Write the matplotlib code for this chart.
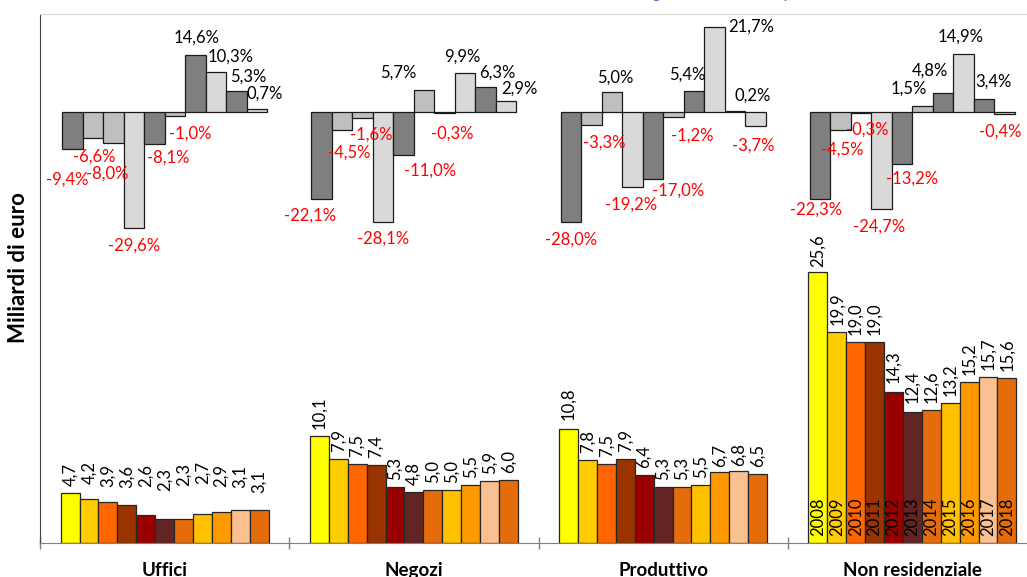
import numpy as np
import matplotlib
matplotlib.use("Agg")
import matplotlib.pyplot as plt

plt.rcParams['font.family'] = ['Lato', 'DejaVu Sans']

# --- data ---
categories = ["Uffici", "Negozi", "Produttivo", "Non residenziale"]
years = ["2008", "2009", "2010", "2011", "2012", "2013",
         "2014", "2015", "2016", "2017", "2018"]

# billions of euro, 2008..2018
uffici     = [4.7, 4.2, 3.9, 3.6, 2.6, 2.3, 2.3, 2.7, 2.9, 3.1, 3.1]
negozi     = [10.1, 7.9, 7.5, 7.4, 5.3, 4.8, 5.0, 5.0, 5.5, 5.9, 6.0]
produttivo = [10.8, 7.8, 7.5, 7.9, 6.4, 5.3, 5.3, 5.5, 6.7, 6.8, 6.5]
non_resid  = [25.6, 19.9, 19.0, 19.0, 14.3, 12.4, 12.6, 13.2, 15.2, 15.7, 15.6]

# yearly change (%), 2009..2018
var_uffici     = [-9.4, -6.6, -8.0, -29.6, -8.1, -1.0, 14.6, 10.3, 5.3, 0.7]
var_negozi     = [-22.1, -4.5, -1.6, -28.1, -11.0, 5.7, -0.3, 9.9, 6.3, 2.9]
var_produttivo = [-28.0, -3.3, 5.0, -19.2, -17.0, -1.2, 5.4, 21.7, 0.2, -3.7]
var_non_resid  = [-22.3, -4.5, -0.3, -24.7, -13.2, 1.5, 4.8, 14.9, 3.4, -0.4]

values = [uffici, negozi, produttivo, non_resid]
changes = [var_uffici, var_negozi, var_produttivo, var_non_resid]

year_colors = ["#ffff00", "#ffcc00", "#ff6600", "#993300", "#990000", "#632523",
               "#e46c0a", "#ffc000", "#ff9900", "#fac090", "#e46c0a"]
change_colors = ["#7f7f7f", "#bfbfbf", "#bfbfbf", "#d9d9d9", "#7f7f7f",
                 "#bfbfbf", "#7f7f7f", "#d9d9d9", "#7f7f7f", "#d9d9d9"]

# label nudges in pixels (dx right, dy down) from the bar end, like excel placed them
pct_nudge = [
    [(-5, 31), (1, 19), (-6, 30), (0, 18), (14, 14), (15, 18), (1, -17), (15, -15), (12, -15), (8, -16)],
    [(-12, 17), (7, 23), (9, 16), (0, 17), (26, 16), (-26, -17), (8, 20), (-3, -17), (12, -15), (13, -12)],
    [(0, 18), (13, 18), (3, -15), (-1, 17), (25, 12), (19, 19), (-7, -16), (37, 0), (18, -16), (-2, 19)],
    [(-4, 10), (2, 20), (6, 16), (-3, 18), (10, 15), (-14, -17), (-13, -23), (-3, -17), (9, -17), (-4, 18)],
]
# gap (pixels) between bar top and its rotated value label
value_gap = [
    [7, 15, 15, 17, 28, 28, 33, 30, 25, 22, 17],
    [7] * 11,
    [9, 7, 7, 7, 7, 7, 7, 7, 5, 5, 7],
    [5, 7, 7, 7, 9, 9, 7, 7, 7, 7, 7],
]

def fmt(v):
    return f"{v:.1f}".replace(".", ",")

fig = plt.figure(figsize=(10.27, 5.77), dpi=100)
ax = fig.add_axes([40 / 1027, 1 - 543 / 577, 997 / 1027, 529 / 577])
ax2 = ax.twinx()

bw = 0.0758   # annual bars
gw = 0.0822   # growth bars
label_fs = 12

for g, (vals, chg) in enumerate(zip(values, changes)):
    # annual values, bottom half
    for i, v in enumerate(vals):
        x = g + 0.5 + (i - 5) * bw
        ax.bar(x, v, width=bw, color=year_colors[i], edgecolor="#262626", linewidth=0.9)
        ax.annotate(fmt(v), (x, v), xytext=(0, value_gap[g][i]), textcoords="offset pixels",
                    rotation=90, ha="center", va="bottom", fontsize=label_fs)
        if g == 3:
            ax.text(x, 0.7, years[i], rotation=90, ha="center", va="bottom",
                    fontsize=label_fs, color="black")
    # yearly changes, top half on secondary axis
    for j, c in enumerate(chg):
        x = g + 0.5 + (j - 4.5) * gw
        ax2.bar(x, c, width=gw, color=change_colors[j], edgecolor="#1a1a1a", linewidth=0.9)
        dx, dy = pct_nudge[g][j]
        ax2.annotate(fmt(c) + "%", (x, c), xytext=(dx, -dy), textcoords="offset pixels",
                     ha="center", va="center", fontsize=label_fs,
                     color="black" if c >= 0 else "red")
    # category names (clipped at the bottom like the original)
    ax.text(g + 0.5, -0.035, categories[g], transform=ax.get_xaxis_transform(),
            ha="center", va="top", fontsize=13.5, fontweight="bold")

ax.set_xlim(0, 4)
ax.set_ylim(0, 50)
ax2.set_ylim(-110, 25)

ax.set_xticks([0, 1, 2, 3, 4])
ax.set_xticklabels([])
ax.tick_params(axis="x", direction="inout", length=8.6, width=1, color="#808080")
ax.set_yticks([])
ax2.set_yticks([])

ax.spines["top"].set_color("#d9d9d9")
ax.spines["left"].set_color("#404040")
ax.spines["bottom"].set_color("#808080")
ax.spines["right"].set_visible(False)
for s in ax2.spines.values():
    s.set_visible(False)

fig.text(19 / 1027, 1 - 268 / 577, "Miliardi di euro", rotation=90,
         ha="center", va="center", fontsize=16, fontweight="bold")

# source line, mostly above the top edge
fig.text(617 / 1027, 1 + 2 / 577, "Fonte: elaborazioni su dati Nomisma,",
         ha="right", va="baseline", fontsize=12, color="#3f6fb5")
fig.text(641 / 1027, 1 + 2 / 577, "Agenzia Entrate e operatori",
         ha="left", va="baseline", fontsize=12, color="#3f6fb5")

fig.savefig("out.png", dpi=100)
